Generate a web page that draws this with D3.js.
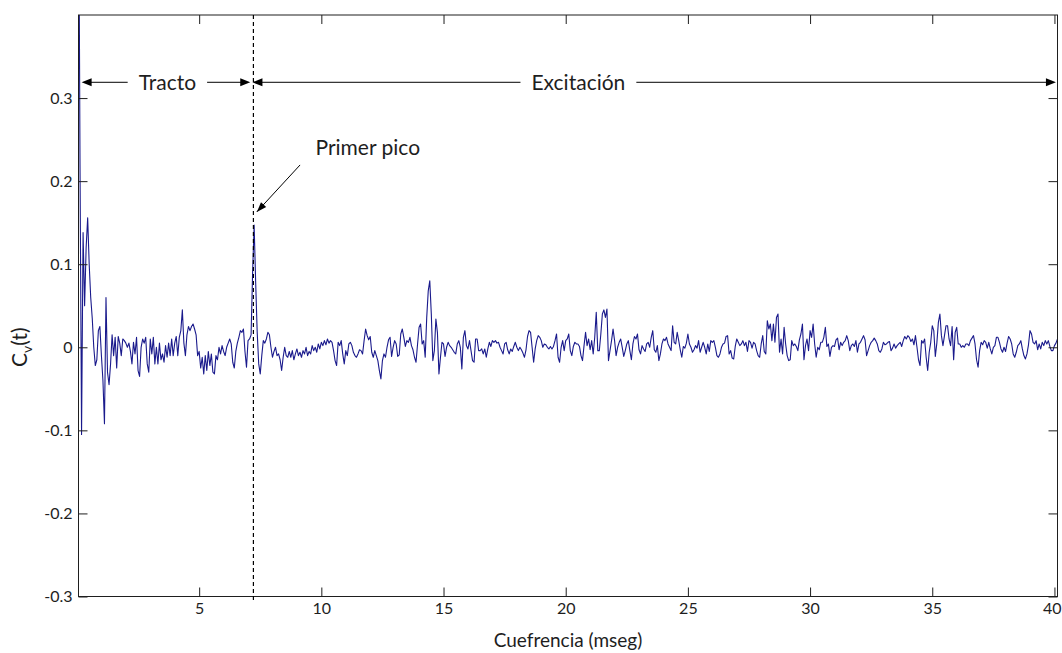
<!DOCTYPE html>
<html>
<head>
<meta charset="utf-8">
<script src="https://cdn.jsdelivr.net/npm/d3@7"></script>
<style>
  body { margin: 0; background: #fff; }
  svg { display: block; }
</style>
</head>
<body>
<svg id="chart" width="1062" height="653"></svg>
<script>
// cepstrum samples, one every 1/16 ms (16 kHz), first sample at 0.0625 ms
const sampleStep = 0.0625;
const cv = [
  0.62, 0.217, -0.105, 0.138, 0.05, 0.12, 0.156, 0.10, 0.06, 0.035,
  0.0, -0.022, -0.015, 0.02, 0.025, -0.01, -0.04, -0.092, 0.06, -0.03,
  -0.045, -0.02, 0.015, -0.01, 0.012, -0.025, 0.013, 0.005, -0.01, 0.01,
  0.008, 0.005, 0.0, 0.005, -0.005, -0.02, 0.006, -0.008, 0.012, -0.028,
  -0.035, 0.0, 0.01, 0.005, 0.012, -0.02, -0.03, 0.01, -0.008, 0.012,
  -0.02, 0.0, -0.02, 0.005, -0.015, -0.008, -0.018, 0.002, -0.012, 0.005,
  -0.01, 0.01, -0.01, 0.005, 0.013, -0.01, 0.012, 0.02, 0.045, 0.005,
  -0.01, 0.015, 0.025, 0.02, 0.025, 0.028, 0.022, 0.015, -0.01, -0.005,
  -0.025, -0.012, -0.032, -0.01, -0.028, -0.005, -0.022, -0.008, -0.03, -0.032,
  -0.01, -0.015, 0.0, -0.008, 0.002, -0.005, -0.01, 0.0, 0.005, 0.01,
  0.004, -0.018, -0.025, -0.005, 0.005, 0.012, 0.02, 0.018, 0.022, -0.005,
  -0.024, 0.008, 0.01, 0.015, 0.09, 0.147, 0.078, 0.018, -0.02, -0.032,
  -0.01, 0.008, 0.005, 0.01, 0.018, 0.015, 0.0, -0.012, -0.005, 0.0,
  -0.01, -0.008, -0.015, -0.028, -0.012, 0.0, -0.01, -0.012, -0.005, -0.012,
  -0.004, -0.015, -0.008, -0.002, -0.01, -0.006, -0.012, -0.004, -0.008, 0.0,
  -0.01, -0.005, -0.008, 0.002, -0.004, 0.0, -0.006, 0.004, -0.002, 0.006,
  0.002, 0.008, 0.003, 0.01, 0.005, 0.008,
  0.006, -0.004, -0.016, -0.022, 0.006, 0.002, 0.008, -0.008, -0.02, -0.004,
  -0.01, 0.004, 0.006, 0.002, -0.006, -0.01, -0.012, -0.008, -0.003, -0.004,
  -0.008, 0.008, 0.022, 0.014, 0.009, 0.013, -0.006, -0.012, -0.004, -0.01,
  -0.016, -0.028, -0.038, -0.016, -0.008, -0.012, 0.0, 0.009, 0.012, -0.011,
  0.0, 0.008, 0.004, -0.011, -0.009, 0.016, 0.022, 0.012, 0.001, 0.008,
  0.006, 0.012, 0.002, -0.003, -0.012, -0.018, 0.004, 0.024, 0.028, 0.004,
  0.008, -0.012, 0.036, 0.068, 0.08, 0.04, -0.016, -0.004, 0.034, 0.018,
  -0.032, -0.012, 0.006, 0.004, -0.011, 0.0, 0.006, 0.002, 0.0, -0.003,
  -0.006, -0.008, 0.004, 0.008, 0.0, -0.026, 0.012, 0.02, 0.002, -0.002,
  0.008, -0.004, -0.016, -0.018, 0.01, 0.01,
  -0.004, -0.004, -0.002, -0.008, -0.002, -0.012, -0.002, 0.006, 0.001, 0.008,
  0.006, 0.008, 0.005, 0.006, 0.0, -0.004, -0.008, 0.004, 0.006, -0.003,
  -0.008, -0.002, -0.005, 0.001, 0.006, 0.0, -0.004, 0.0, -0.003, -0.007,
  -0.012, -0.003, 0.013, 0.02, 0.018, 0.0, -0.018, -0.002, 0.008, 0.014,
  0.012, 0.008, 0.0, 0.004, 0.003, 0.0, -0.002, 0.001, -0.002, 0.001,
  0.008, 0.016, -0.012, -0.018, 0.0, 0.008, -0.004, 0.008, 0.01, 0.016,
  -0.004, -0.01, 0.001, 0.006, 0.004, 0.004, 0.001, -0.01, -0.016, 0.002,
  0.018, 0.002, 0.01, -0.003, 0.008, -0.008, 0.012, 0.042, -0.004, -0.004,
  0.016, 0.04, 0.045, 0.036, 0.046, -0.016, -0.004, 0.008, 0.022, 0.008,
  -0.01, 0.0, 0.006, 0.01, 0.0, -0.011, -0.004,
  0.004, 0.008, -0.004, -0.015, 0.004, 0.013, 0.01, 0.016, -0.003, -0.008,
  0.002, -0.002, -0.005, 0.004, 0.006, 0.0, 0.012, 0.02, -0.003, -0.006,
  0.002, -0.016, -0.008, 0.004, 0.01, 0.008, 0.012, 0.004, 0.0, -0.004,
  0.026, 0.006, 0.004, 0.018, 0.008, -0.003, -0.012, 0.001, -0.001, 0.005,
  0.016, 0.004, 0.0, -0.006, -0.003, 0.002, -0.001, 0.008, -0.006, 0.0,
  0.006, 0.0, -0.008, 0.004, -0.005, 0.008, 0.006, 0.008, 0.0, -0.01,
  -0.012, -0.008, 0.0, 0.004, 0.005, 0.013, 0.014, -0.008, -0.004, -0.013,
  -0.014, 0.001, 0.01, 0.006, 0.002, 0.004, 0.008, 0.002, 0.006, -0.005,
  0.008, 0.006, -0.001, 0.006, 0.004, -0.004, -0.01, -0.012, 0.004, 0.014,
  -0.005, -0.008, 0.032, 0.022, 0.028, 0.008, 0.028,
  0.006, 0.036, 0.04, -0.006, 0.01, -0.008, 0.024, 0.004, -0.01, -0.016,
  -0.015, 0.008, 0.002, 0.004, 0.001, -0.004, 0.009, 0.016, 0.028, -0.015,
  0.002, 0.01, -0.004, 0.02, 0.012, 0.028, 0.004, -0.012, 0.0, -0.003,
  0.006, 0.006, 0.012, 0.024, 0.001, 0.004, -0.011, 0.0, 0.002, 0.001,
  0.009, 0.011, -0.003, 0.006, 0.002, 0.006, 0.008, 0.014, 0.008, -0.004,
  0.002, 0.004, 0.001, 0.008, -0.006, 0.004, 0.006, 0.01, 0.014, 0.009,
  -0.01, -0.004, 0.002, 0.006, 0.008, 0.011, 0.008, 0.004, -0.004, -0.006,
  -0.002, 0.006, 0.003, 0.004, 0.006, 0.007, -0.004, -0.001, 0.004, -0.001,
  0.002, 0.004, 0.006, 0.001, 0.008, 0.013, 0.01, 0.014, 0.012, 0.007,
  0.01, 0.003, 0.014, 0.0, -0.015, -0.022, 0.008,
  0.005, 0.01, -0.012, -0.028, -0.006, 0.006, 0.026, 0.02, -0.011, 0.005,
  0.03, 0.04, 0.014, 0.002, 0.014, 0.026, 0.026, 0.01, 0.002, 0.025,
  -0.015, 0.018, 0.024, 0.004, 0.004, 0.0, 0.002, 0.0, 0.004, 0.004,
  0.002, 0.008, 0.011, 0.014, 0.004, -0.015, -0.024, -0.004, 0.006, 0.003,
  0.008, 0.006, -0.001, 0.006, -0.002, -0.008, 0.0, 0.002, 0.012, 0.012,
  0.006, -0.002, -0.006, 0.0, -0.005, 0.005, 0.013, 0.01, 0.004, -0.008,
  -0.012, -0.006, 0.002, 0.004, 0.008, -0.002, -0.01, -0.014, -0.008, 0.003,
  0.02, 0.016, 0.006, 0.004, 0.008, -0.003, 0.004, -0.002, 0.006, 0.002,
  0.008, 0.004, 0.008, 0.001, -0.004, -0.004, 0.002, 0.005, 0.01
];

const xDomain = [0.0625, 40.125];
const yDomain = [-0.3, 0.4];
const xTicks = [5, 10, 15, 20, 25, 30, 35, 40];
const yTicks = [-0.3, -0.2, -0.1, 0, 0.1, 0.2, 0.3];

const xTitle = 'Cuefrencia (mseg)';
const firstPeak = 7.22;          // ms, dashed separator
const arrowLevel = 0.319;
const tractoSpan = [0.19, 7.09];
const excitacionSpan = [7.18, 40.06];
const tractoCenter = 3.70;
const excitacionCenter = 20.52;
const peakArrow = { from: [9.13, 0.2195], to: [7.36, 0.163] };
const peakText = { x: 9.76, y: 0.241 };

const font = "Lato, 'Open Sans', sans-serif";
const ink = '#1e1e1e';
const box = { left: 78.5, right: 1057.5, top: 15, bottom: 596.5 };
const W = 1062;

const svg = d3.select('#chart');

const x = d3.scaleLinear().domain(xDomain).range([box.left, box.right]);
const y = d3.scaleLinear().domain(yDomain).range([box.bottom, box.top]);

svg.append('defs').append('clipPath').attr('id', 'plotArea')
  .append('rect')
  .attr('x', box.left).attr('y', box.top)
  .attr('width', box.right - box.left).attr('height', box.bottom - box.top);

// signal
const points = cv.map((v, i) => [(i + 1) * sampleStep, v]);
svg.append('path')
  .datum(points)
  .attr('clip-path', 'url(#plotArea)')
  .attr('fill', 'none')
  .attr('stroke', '#1a1a8c')
  .attr('stroke-width', 1.1)
  .attr('stroke-linejoin', 'round')
  .attr('d', d3.line().x(d => x(d[0])).y(d => y(d[1])));

// axes, ticks pointing inwards on all four sides
function styleAxis(g) {
  g.select('.domain').remove();
  g.selectAll('line').attr('stroke', ink);
  g.selectAll('text').attr('fill', ink).attr('font-family', font).attr('font-size', 16);
}

const xAxisG = svg.append('g')
  .attr('transform', `translate(0,${box.bottom})`)
  .call(d3.axisBottom(x).tickValues(xTicks).tickSizeInner(-9).tickSizeOuter(0).tickPadding(6).tickFormat(d => String(d)))
  .call(styleAxis);
// keep the last label inside the page, as in the reference
xAxisG.selectAll('.tick text').each(function () {
  const b = this.getBBox();
  const tx = x(d3.select(this.parentNode).datum());
  const overflow = tx + b.x + b.width - (W - 1);
  if (overflow > 0) d3.select(this).attr('dx', -overflow);
});

svg.append('g')
  .attr('transform', `translate(0,${box.top})`)
  .call(d3.axisTop(x).tickValues(xTicks).tickSizeInner(-9).tickSizeOuter(0).tickFormat(''))
  .call(styleAxis);
svg.append('g')
  .attr('transform', `translate(${box.left},0)`)
  .call(d3.axisLeft(y).tickValues(yTicks).tickSizeInner(-9).tickSizeOuter(0).tickPadding(6).tickFormat(d => String(d)))
  .call(styleAxis);
svg.append('g')
  .attr('transform', `translate(${box.right},0)`)
  .call(d3.axisRight(y).tickValues(yTicks).tickSizeInner(-9).tickSizeOuter(0).tickFormat(''))
  .call(styleAxis);

svg.append('rect')
  .attr('x', box.left).attr('y', box.top)
  .attr('width', box.right - box.left).attr('height', box.bottom - box.top)
  .attr('fill', 'none').attr('stroke', ink).attr('stroke-width', 1);

// titles
svg.append('text')
  .attr('x', (box.left + box.right) / 2).attr('y', 647)
  .attr('text-anchor', 'middle')
  .attr('font-family', font).attr('font-size', 19).attr('fill', ink)
  .text(xTitle);

const yTitle = svg.append('text')
  .attr('transform', `translate(27,${y(0)}) rotate(-90)`)
  .attr('text-anchor', 'middle')
  .attr('font-family', font).attr('font-size', 21).attr('fill', ink);
yTitle.append('tspan').text('C');
yTitle.append('tspan').attr('font-size', 14).attr('dy', 5).text('v');
yTitle.append('tspan').attr('dy', -5).text('(t)');

// dashed separator at the first peak
svg.append('line')
  .attr('x1', x(firstPeak)).attr('x2', x(firstPeak))
  .attr('y1', box.top).attr('y2', box.bottom + 5.5)
  .attr('stroke', '#000').attr('stroke-width', 1.2)
  .attr('stroke-dasharray', '4,3');

function arrowHead(tip, from, len = 10, half = 4) {
  const a = Math.atan2(tip[1] - from[1], tip[0] - from[0]);
  const bx = tip[0] - len * Math.cos(a), by = tip[1] - len * Math.sin(a);
  const nx = -Math.sin(a) * half, ny = Math.cos(a) * half;
  svg.append('path')
    .attr('d', `M${tip[0]},${tip[1]}L${bx + nx},${by + ny}L${bx - nx},${by - ny}Z`)
    .attr('fill', '#000');
}

function spanArrow(span, center, label) {
  const yy = y(arrowLevel);
  const t = svg.append('text')
    .attr('x', x(center)).attr('y', yy).attr('dy', '0.36em')
    .attr('text-anchor', 'middle')
    .attr('font-family', font).attr('font-size', 21).attr('fill', ink)
    .text(label);
  const w = t.node().getComputedTextLength();
  const gap = 11;
  const x0 = x(span[0]), x1 = x(span[1]);
  svg.append('line').attr('x1', x0 + 8).attr('x2', x(center) - w / 2 - gap)
    .attr('y1', yy).attr('y2', yy).attr('stroke', '#000');
  svg.append('line').attr('x1', x(center) + w / 2 + gap).attr('x2', x1 - 8)
    .attr('y1', yy).attr('y2', yy).attr('stroke', '#000');
  arrowHead([x0, yy], [x0 + 10, yy]);
  arrowHead([x1, yy], [x1 - 10, yy]);
}

spanArrow(tractoSpan, tractoCenter, 'Tracto');
spanArrow(excitacionSpan, excitacionCenter, 'Excitación');

// "Primer pico" callout
const pFrom = [x(peakArrow.from[0]), y(peakArrow.from[1])];
const pTo = [x(peakArrow.to[0]), y(peakArrow.to[1])];
svg.append('line')
  .attr('x1', pFrom[0]).attr('y1', pFrom[1])
  .attr('x2', pTo[0]).attr('y2', pTo[1])
  .attr('stroke', '#000');
arrowHead(pTo, pFrom, 10, 3.5);
svg.append('text')
  .attr('x', x(peakText.x)).attr('y', y(peakText.y)).attr('dy', '0.36em')
  .attr('font-family', font).attr('font-size', 21).attr('fill', ink)
  .text('Primer pico');
</script>
</body>
</html>
